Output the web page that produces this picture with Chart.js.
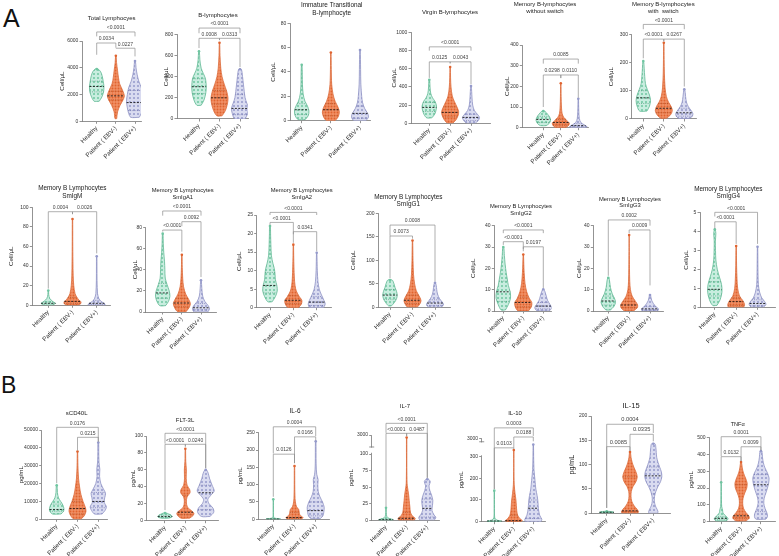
<!DOCTYPE html>
<html><head><meta charset="utf-8">
<script src="https://cdn.jsdelivr.net/npm/chart.js@4.4.1/dist/chart.umd.min.js"></script>
<style>
html,body{margin:0;padding:0;background:#fff;}
#wrap{position:relative;width:779px;height:556px;overflow:hidden;background:#fff;font-family:"Liberation Sans",Arial,sans-serif;}
#wrap canvas{position:absolute;left:0;top:0;}
.lbl{position:absolute;color:#111;line-height:1;}
</style></head><body>
<div id="wrap">
<div class="lbl" style="left:3px;top:6px;font-size:25px">A</div>
<div class="lbl" style="left:1px;top:374px;font-size:23px">B</div>
</div>
<script>
const groups = ['Healthy', 'Patient ( EBV-)', 'Patient ( EBV+)'];

// ---------- Panel data: violin profiles [value, relative width], quartiles [q1, median, q3], significance [a, b, level, dropA, dropB, p] ----------
const tlTicks = [0, 2000, 4000, 6000];
const tlViolins = [
  [[1500,.35],[1800,.7],[2200,.95],[2600,1],[3000,.9],[3400,.75],[3700,.55],[3900,.2]],
  [[200,.1],[700,.2],[1200,.5],[1600,.85],[1900,1],[2300,.8],[2800,.45],[3300,.3],[3800,.2],[4400,.08],[4900,.03]],
  [[300,.5],[600,.75],[1000,.9],[1500,1],[2000,.9],[2500,.75],[3000,.45],[3500,.25],[4000,.12],[4500,.05]]
];
const tlQuart = [[2200,2600,3000],[1600,1900,2250],[800,1400,2300]];
const tlSig = [[1,3,6675,6345,6345,'<0.0001'],[1,2,5850,4970,5500,'0.0034'],[2,3,5460,5460,4850,'0.0227']];

const blTicks = [0, 200, 400, 600, 800];
const blViolins = [
  [[130,.3],[180,.7],[250,.95],[310,1],[380,.9],[430,.6],[480,.3],[560,.12],[640,.05]],
  [[30,.3],[80,.7],[150,.95],[200,1],[260,.85],[330,.55],[400,.3],[480,.15],[600,.06],[720,.02]],
  [[0,.6],[50,.9],[100,1],[150,.8],[200,.6],[260,.5],[330,.4],[400,.3],[470,.15]]
];
const blQuart = [[240,305,380],[140,200,270],[40,100,230]];
const blSig = [[1,3,859,810,810,'<0.0001'],[1,2,762,670,745,'0.0008'],[2,3,762,745,490,'0.0313']];

const itTicks = [0, 20, 40, 60, 80];
const itViolins = [
  [[1,.5],[4,.9],[8,1],[12,.8],[16,.45],[22,.2],[30,.1],[38,.08],[46,.04]],
  [[0,.5],[3,.85],[7,1],[11,.85],[16,.5],[22,.25],[30,.1],[42,.05],[56,.02]],
  [[0,.7],[3,1],[6,.9],[10,.55],[15,.3],[20,.2],[30,.1],[42,.07],[58,.03]]
];
const itQuart = [[5,9,14],[4,9,14],[2,6,12]];
const itSig = [];

const vbTicks = [0, 200, 400, 600, 800, 1000];
const vbViolins = [
  [[60,.35],[100,.75],[150,.95],[190,1],[240,.8],[280,.45],[330,.2],[400,.1],[480,.05]],
  [[0,.3],[40,.7],[90,.95],[130,1],[180,.8],[240,.5],[300,.25],[400,.1],[500,.05],[620,.02]],
  [[0,.5],[30,.85],[65,1],[100,.75],[140,.4],[200,.2],[280,.12],[350,.08],[410,.03]]
];
const vbQuart = [[130,175,230],[70,120,180],[30,65,100]];
const vbSig = [[1,3,842,800,800,'<0.0001'],[1,2,677,500,660,'0.0125'],[2,3,677,660,430,'0.0043']];

const mnsTicks = [0, 100, 200, 300, 400];
const mnsViolins = [
  [[10,.4],[20,.8],[35,1],[50,.9],[65,.6],[80,.2]],
  [[0,.55],[10,.9],[22,1],[35,.7],[50,.35],[70,.15],[100,.08],[150,.04],[215,.02]],
  [[0,.9],[6,1],[14,.7],[25,.3],[45,.12],[80,.06],[110,.04],[140,.02]]
];
const mnsQuart = [[25,40,55],[12,25,40],[4,10,20]];
const mnsSig = [[1,3,332,310,310,'0.0085'],[1,2,255,100,240,'0.0298'],[2,3,255,240,145,'0.0110']];

const msTicks = [0, 100, 200, 300];
const msViolins = [
  [[28,.5],[45,.85],[65,1],[85,.85],[105,.55],[125,.3],[150,.2],[180,.12],[205,.05]],
  [[3,.35],[15,.8],[30,1],[45,.85],[60,.55],[80,.3],[110,.15],[160,.07],[210,.04],[270,.02]],
  [[2,.6],[10,.95],[20,1],[32,.75],[45,.45],[60,.25],[80,.15],[105,.05]]
];
const msQuart = [[55,75,100],[22,38,55],[10,22,38]];
const msSig = [[1,3,335,318,318,'<0.0001'],[1,2,283,215,275,'<0.0001'],[2,3,283,275,115,'0.0267']];

const igmTicks = [0, 20, 40, 60, 80, 100];
const igmViolins = [
  [[0,.4],[1,.8],[2,1],[4,.6],[7,.2],[11,.06],[15,.03]],
  [[0,.7],[2,1],[4,.95],[7,.6],[12,.3],[20,.15],[30,.08],[45,.05],[65,.03],[88,.02]],
  [[0,1],[2,.9],[4,.5],[7,.25],[12,.1],[25,.04],[40,.03],[50,.02]]
];
const igmQuart = [[1.5,2,3.5],[2,4,8],[1,2,5]];
const igmSig = [[1,2,95.5,17,93,'0.0004'],[2,3,95.5,93,53,'0.0026']];

const iga1Ticks = [0, 20, 40, 60, 80];
const iga1Violins = [
  [[6,.4],[10,.8],[15,1],[20,.9],[26,.6],[32,.35],[40,.3],[48,.25],[56,.15],[65,.08],[74,.04]],
  [[0,.45],[4,.85],[8,1],[12,.8],[17,.45],[24,.2],[32,.1],[42,.05],[54,.02]],
  [[0,.8],[3,1],[6,.85],[10,.45],[15,.2],[22,.1],[30,.03]]
];
const iga1Quart = [[13,18,27],[5,8.5,13],[2,4,8]];
const iga1Sig = [[1,3,95.4,91,91,'<0.0001'],[1,2,77.4,76,57,'<0.0001'],[2,3,85.3,81,33,'0.0092']];

const iga2Ticks = [0, 5, 10, 15, 20, 25];
const iga2Violins = [
  [[1.6,.3],[3,.75],[4.5,1],[6,.95],[7.5,.75],[9,.7],[10.5,.6],[12,.4],[14,.2],[17,.12],[20,.08],[22,.05]],
  [[0,.6],[1,.95],[2,1],[3,.7],[4.5,.35],[6,.2],[8,.12],[11,.07],[14,.04],[17,.02]],
  [[0,.8],[1,1],[2,.85],[3.5,.55],[5,.3],[7,.15],[10,.07],[14.8,.02]]
];
const iga2Quart = [[4,6,9.5],[1.1,2,3.2],[0.6,1.5,3]];
const iga2Sig = [[1,3,25.7,25,25,'<0.0001'],[1,2,23,22.3,17.5,'<0.0001'],[2,3,20.5,19.8,15.2,'0.0341']];

const igg1Ticks = [0, 50, 100, 150, 200];
const igg1Violins = [
  [[3,.2],[10,.6],[18,.9],[26,1],[34,.9],[42,.7],[50,.55],[58,.3]],
  [[0,.55],[8,.9],[15,1],[25,.75],[35,.45],[50,.25],[70,.12],[100,.06],[142,.02]],
  [[0,.7],[5,1],[10,.9],[18,.55],[28,.3],[38,.2],[46,.15],[52,.05]]
];
const igg1Quart = [[17,26,38],[8,15,26],[4,9,16]];
const igg1Sig = [[1,3,175,152,55,'0.0008'],[1,2,151.7,62,146,'0.0073']];

const igg2Ticks = [0, 10, 20, 30, 40];
const igg2Violins = [
  [[0.5,.3],[3,.7],[6,1],[9,.95],[12,.7],[15,.55],[18,.4],[22,.25],[26,.15],[30,.06]],
  [[0,.6],[2,.95],[4,1],[6,.7],[9,.4],[13,.2],[18,.1],[22,.06],[26.5,.02]],
  [[0,.7],[1.5,1],[3,.8],[5,.5],[7,.35],[9,.2],[10.2,.05]]
];
const igg2Quart = [[4.5,9,14],[2,4,6.5],[1,2.3,4]];
const igg2Sig = [[1,3,38,36.5,36.5,'<0.0001'],[1,2,32.5,31,28,'<0.0001'],[2,3,30.1,29,10.8,'0.0197']];

const igg3Ticks = [0, 10, 20, 30, 40];
const igg3Violins = [
  [[0.5,.3],[2,.75],[4,1],[6,.85],[8,.55],[11,.3],[13.5,.2],[15.6,.08]],
  [[0,.5],[1.5,.95],[2.8,1],[4.5,.75],[7,.35],[10,.15],[14,.07],[20,.04],[28,.02],[35.6,.01]],
  [[0,.9],[1,1],[2,.7],[3.5,.4],[5,.2],[7.5,.05]]
];
const igg3Quart = [[2.8,4.7,7],[1.5,2.8,4.5],[0.5,1,2]];
const igg3Sig = [[1,3,42.7,16.5,40,'0.0002'],[2,3,38,36.5,12,'0.0009']];

const igg4Ticks = [0, 1, 2, 3, 4, 5];
const igg4Violins = [
  [[0.1,.3],[0.4,.75],[0.8,1],[1.2,.95],[1.6,.65],[2,.35],[2.5,.15],[3,.1],[3.5,.08],[3.9,.15],[4.12,.05]],
  [[0,.9],[0.15,1],[0.35,.8],[0.6,.4],[1,.18],[1.5,.1],[2.2,.05],[3.24,.02]],
  [[0,.7],[0.15,1],[0.3,.85],[0.5,.5],[0.8,.25],[1.2,.1],[2,.05],[3.2,.02]]
];
const igg4Quart = [[0.6,0.95,1.35],[0.1,0.3,0.5],[0.08,0.2,0.4]];
const igg4Sig = [[1,3,5.02,4.8,3.35,'<0.0001'],[1,2,4.52,4.17,3.35,'<0.0001']];

const cd40Ticks = [0, 10000, 20000, 30000, 40000, 50000];
const cd40Violins = [
  [[3000,.6],[4500,.95],[6000,1],[8000,.85],[10000,.55],[12000,.25],[15000,.1],[19000,.05]],
  [[0,.4],[2000,.8],[4500,1],[7000,.9],[10000,.65],[14000,.4],[18000,.25],[23000,.12],[30000,.05],[38000,.02]],
  [[3000,.45],[5000,.8],[7000,.95],[9500,.7],[12000,.75],[14500,.85],[17000,.6],[20000,.3],[24000,.15],[28000,.18],[32000,.08],[38000,.05],[43000,.04]]
];
const cd40Quart = [[4500,5500,8500],[3000,6000,10000],[6500,10000,15000]];
const cd40Sig = [[1,3,51500,20200,43500,'0.0176'],[2,3,45900,38500,43500,'0.0215']];

const flt3Ticks = [0, 20, 40, 60, 80, 100];
const flt3Violins = [
  [[3,.5],[4,.9],[5,1],[6.5,.85],[8,.5],[9,.2]],
  [[3,.5],[6,.9],[9,1],[12,.7],[16,.25],[22,.12],[28,.2],[33,.55],[37,.5],[42,.2],[50,.1],[60,.12],[70,.05],[85,.02]],
  [[5,.5],[10,.95],[15,.85],[20,.4],[25,.25],[30,.6],[35,1],[42,.75],[50,.45],[56,.3],[60,.1]]
];
const flt3Quart = [[4,5,6.5],[7,10,30],[13,33,42]];
const flt3Sig = [[1,3,103.2,91,62,'<0.0001'],[1,2,90.2,12.5,87.5,'<0.0001'],[2,3,90.2,87.5,62,'0.0240']];

const il6Ticks = [0, 50, 100, 150, 200, 250];
const il6Violins = [
  [[0,.8],[1,1],[3,.3],[6,.05],[20,.02],[58,.02]],
  [[0,.8],[5,1],[12,.65],[20,.55],[28,.5],[36,.25],[50,.1],[70,.05],[100,.03],[154,.02]],
  [[2,.55],[10,.85],[20,.95],[35,1],[50,.8],[65,.5],[80,.3],[100,.25],[115,.28],[130,.12],[160,.05],[225,.03]]
];
const il6Quart = [[0,0.5,1],[2,5,20],[10,25,50]];
const il6Sig = [[1,3,267,190,240,'0.0004'],[2,3,238,162,228,'0.0166'],[1,2,188,65,162,'0.0126']];

const il7Ticks = [0, 25, 50, 75, 100, 128.7];
const il7TickLabels = ['0', '25', '50', '75', '100', '3000'];
const il7Violins = [
  [[0,.9],[1,1],[3,.4],[6,.1],[12,.04],[19,.02]],
  [[0,.9],[3,1],[7,.65],[12,.45],[20,.38],[30,.3],[40,.22],[50,.1],[56,.05],[80,.02],[125,.02]],
  [[0,.8],[4,1],[9,.75],[15,.55],[22,.6],[30,.65],[38,.5],[45,.3],[52,.2],[58,.35],[62,.15]]
];
const il7Quart = [[0.3,1,2],[1,3,12],[5,18,32]];
const il7Sig = [[1,3,146.3,132,64,'<0.0001'],[1,2,131.2,20.5,127,'<0.0001'],[2,3,131.2,127,64,'0.0487']];

const il10Ticks = [0, 100, 200, 300, 384];
const il10TickLabels = ['0', '100', '200', '300', '3000'];
const il10Violins = [
  [[0,.9],[3,1],[8,.3],[20,.05],[60,.02],[143,.02]],
  [[0,.8],[5,1],[15,.7],[30,.45],[50,.35],[75,.3],[100,.25],[130,.15],[170,.05],[250,.02],[330,.02]],
  [[0,.9],[10,1],[30,.75],[60,.6],[90,.55],[120,.45],[150,.3],[190,.2],[240,.08],[300,.04],[355,.02]]
];
const il10Quart = [[1,3,6],[2,5,30],[15,62,100]];
const il10Sig = [[1,3,432,150,395,'0.0003'],[1,2,340,150,335,'0.0103'],[2,3,390,340,370,'0.0188']];

const il15Ticks = [0, 50, 100, 150, 200];
const il15Violins = [
  [[1,.6],[2,1],[3,.8],[4,.3]],
  [[0,.9],[3,1],[8,.85],[15,.5],[25,.2],[35,.12],[45,.15],[55,.35],[65,.7],[75,.85],[85,.7],[95,.45],[105,.25],[115,.12],[126,.05]],
  [[0,.5],[3,.55],[8,.45],[15,.25],[25,.12],[35,.15],[45,.3],[55,.55],[65,.85],[75,1],[85,.95],[95,.75],[105,.55],[115,.4],[125,.35],[135,.3],[143,.2]]
];
const il15Quart = [[1.5,2,3],[3,5,75],[40,77,95]];
const il15Sig = [[1,3,183,11,165,'0.0004'],[2,3,162.4,128,148,'0.0335'],[1,2,137,11,128,'0.0085']];

const tnfTicks = [0, 100, 200, 300, 400, 500];
const tnfViolins = [
  [[5,.7],[15,1],[25,.9],[40,.5],[55,.25],[70,.2],[90,.08],[130,.04],[180,.03],[235,.02]],
  [[5,.6],[20,1],[35,.95],[55,.6],[80,.3],[110,.2],[140,.25],[170,.45],[200,.7],[230,.75],[260,.55],[290,.3],[320,.15],[355,.05]],
  [[15,.6],[30,.8],[50,.75],[80,.5],[110,.35],[140,.4],[170,.6],[200,.8],[230,.95],[260,1],[290,.8],[320,.5],[350,.3],[380,.2],[420,.1]]
];
const tnfQuart = [[12,20,30],[20,35,220],[60,220,280]];
const tnfSig = [[1,3,506,390,425,'0.0001'],[2,3,446,360,425,'0.0099'],[1,2,387,240,360,'0.0132']];

// ---------- Layout (pixel geometry of each panel) ----------
const CELL = 'Cell/\u03bcL', PG = 'pg/mL';
const panels = [
  {v:tlViolins,q:tlQuart,s:tlSig,t:tlTicks,title:['Total Lymphocyes'],tx:111.7,ty:[18],ts:6,L:82,top:41,bot:121.3,R:141,c1:96.7,c3:135,ylab:CELL,yx:62},
  {v:blViolins,q:blQuart,s:blSig,t:blTicks,title:['B-lymphocytes'],tx:218,ty:[15],ts:6,L:177,top:34.3,bot:119,R:248,c1:199,c3:240,ylab:CELL,yx:166.5},
  {v:itViolins,q:itQuart,s:itSig,t:itTicks,title:['Immature Transitional','B-lymphocyte'],tx:331.7,ty:[5.5,13],ts:6.4,L:290,top:23.3,bot:120.7,R:370,c1:301.7,c3:360,ylab:CELL,yx:273.3},
  {v:vbViolins,q:vbQuart,s:vbSig,t:vbTicks,title:['Virgin B-lymphocytes'],tx:450,ty:[12.3],ts:6,L:411,top:32.5,bot:123.3,R:490,c1:429.3,c3:471,ylab:CELL,yx:394.5},
  {v:mnsViolins,q:mnsQuart,s:mnsSig,t:mnsTicks,title:['Memory B-lymphocytes','without switch'],tx:545,ty:[4.5,11],ts:6,L:522.3,top:45,bot:127.7,R:588,c1:543.3,c3:578.3,ylab:CELL,yx:507},
  {v:msViolins,q:msQuart,s:msSig,t:msTicks,title:['Memory B-lymphocytes','with  switch'],tx:663.3,ty:[4.5,11],ts:6,L:631.7,top:34.3,bot:119,R:696.7,c1:643.3,c3:684.3,ylab:CELL,yx:611},
  {v:igmViolins,q:igmQuart,s:igmSig,t:igmTicks,title:['Memory B Lymphocytes','SmIgM'],tx:72.3,ty:[188.3,196.7],ts:6.4,L:32.3,top:207.3,bot:305.3,R:110,c1:48.3,c3:96.7,ylab:CELL,yx:11.7},
  {v:iga1Violins,q:iga1Quart,s:iga1Sig,t:iga1Ticks,title:['Memory B Lymphocytes','SmIgA1'],tx:182.7,ty:[190.7,197.2],ts:5.8,L:145.7,top:227.3,bot:312,R:216.7,c1:162.7,c3:201,ylab:CELL,yx:135},
  {v:iga2Violins,q:iga2Quart,s:iga2Sig,t:iga2Ticks,title:['Memory B Lymphocytes','SmIgA2'],tx:301.7,ty:[190,197.3],ts:5.8,L:256.7,top:215,bot:307.7,R:331.7,c1:270,c3:316.7,ylab:CELL,yx:239.3},
  {v:igg1Violins,q:igg1Quart,s:igg1Sig,t:igg1Ticks,title:['Memory B Lymphocytes','SmIgG1'],tx:408.3,ty:[197.3,204.5],ts:6.4,L:378.3,top:213.3,bot:307.3,R:450,c1:390,c3:435,ylab:CELL,yx:353.3},
  {v:igg2Violins,q:igg2Quart,s:igg2Sig,t:igg2Ticks,title:['Memory B Lymphocytes','SmIgG2'],tx:521,ty:[206,213],ts:5.8,L:494.3,top:225.7,bot:311,R:551.7,c1:503.3,c3:543.3,ylab:CELL,yx:473.3},
  {v:igg3Violins,q:igg3Quart,s:igg3Sig,t:igg3Ticks,title:['Memory B Lymphocytes','SmIgG3'],tx:630,ty:[199.3,205.8],ts:5.8,L:593.3,top:225.7,bot:311,R:663.3,c1:608.3,c3:650,ylab:CELL,yx:579},
  {v:igg4Violins,q:igg4Quart,s:igg4Sig,t:igg4Ticks,title:['Memory B Lymphocytes','SmIgG4'],tx:728.3,ty:[189.3,196.7],ts:6.4,L:700,top:212.7,bot:307.3,R:776,c1:715,c3:758.3,ylab:CELL,yx:686.7},
  {v:cd40Violins,q:cd40Quart,s:cd40Sig,t:cd40Ticks,title:['sCD40L'],tx:76.7,ty:[413.3],ts:6,L:41.7,top:430,bot:519.3,R:107.3,c1:56.7,c3:98.3,ylab:PG,yx:21.7},
  {v:flt3Violins,q:flt3Quart,s:flt3Sig,t:flt3Ticks,title:['FLT-3L'],tx:185,ty:[420],ts:6,L:146.7,top:436,bot:520.7,R:218.3,c1:165,c3:205.7,ylab:PG,yx:133.3},
  {v:il6Violins,q:il6Quart,s:il6Sig,t:il6Ticks,title:['IL-6'],tx:295,ty:[411.7],ts:6.5,L:258.5,top:432.7,bot:519.3,R:329,c1:273.3,c3:315.7,ylab:PG,yx:240},
  {v:il7Violins,q:il7Quart,s:il7Sig,t:il7Ticks,tl:il7TickLabels,brk:[101,110.6],title:['IL-7'],tx:405,ty:[406],ts:6,L:371.7,top:435,bot:520.3,R:440,c1:386,c3:427.3,ylab:PG,yx:351},
  {v:il10Violins,q:il10Quart,s:il10Sig,t:il10Ticks,tl:il10TickLabels,brk:[303,368],title:['IL-10'],tx:515,ty:[413.3],ts:6,L:481.7,top:438.3,bot:521.7,R:545,c1:494.3,c3:533.3,ylab:PG,yx:461},
  {v:il15Violins,q:il15Quart,s:il15Sig,t:il15Ticks,title:['IL-15'],tx:631,ty:[406],ts:7.5,sigSize:5.7,ys:7,L:591,top:416,bot:513.3,R:670,c1:606.7,c3:653.3,ylab:PG,yx:571.7},
  {v:tnfViolins,q:tnfQuart,s:tnfSig,t:tnfTicks,title:['TNF\u03b1'],tx:737.7,ty:[424.3],ts:5.6,L:709.3,top:437.7,bot:521.7,R:778,c1:721.7,c3:763.3,ylab:PG,yx:691.7}
];

// ---------- Rendering ----------
const FONT = '"Liberation Sans", Arial, Helvetica, sans-serif';
const CW = 779, CH = 556, AX = '#777';
const GROUP_STYLE = [
  {base:'#c8eddf', dot:'#6fc6a1', line:'#5fb893', q:'#3d8c6c', size:4, r:1, f:0.85},
  {base:'#f19166', dot:'#e0632f', line:'#dc6c3c', q:'#9c4620', size:3, r:0.95, f:1},
  {base:'#d9dbf0', dot:'#959acb', line:'#8d91c3', q:'#5e62a0', size:4, r:1, f:1}
];
const wrap = document.getElementById('wrap');

function makePattern(ctx, st) {
  const c = document.createElement('canvas'); c.width = st.size; c.height = st.size;
  const g = c.getContext('2d'); g.fillStyle = st.base; g.fillRect(0, 0, st.size, st.size);
  g.fillStyle = st.dot; g.beginPath(); g.arc(st.size / 2, st.size / 2, st.r, 0, 2 * Math.PI); g.fill();
  return ctx.createPattern(c, 'repeat');
}
function widthAt(prof, v) {
  if (v <= prof[0][0]) return prof[0][1];
  for (let i = 1; i < prof.length; i++) {
    if (v <= prof[i][0]) { const [v0, w0] = prof[i - 1], [v1, w1] = prof[i]; return w0 + (w1 - w0) * (v - v0) / (v1 - v0); }
  }
  return prof[prof.length - 1][1];
}
function violinPoints(prof, c, w) {
  const right = prof.map(([v, r]) => ({x: c + r * w, y: v}));
  const left = prof.slice().reverse().map(([v, r]) => ({x: c - r * w, y: v}));
  return right.concat(left, [right[0]]);
}
function drawDeco(chart, p) {
  const ctx = chart.ctx, xs = chart.scales.x, ys = chart.scales.y, ca = chart.chartArea;
  ctx.save();
  if (p.brk) {
    const x = ca.left, yLo = ys.getPixelForValue(p.brk[0]), yHi = ys.getPixelForValue(p.brk[1]);
    ctx.fillStyle = '#fff'; ctx.fillRect(x - 2, yHi + 0.6, 4, yLo - yHi - 1.2);
    ctx.strokeStyle = AX; ctx.lineWidth = 0.8;
    ctx.beginPath(); ctx.moveTo(x - 2.5, yHi); ctx.lineTo(x + 2.5, yHi); ctx.stroke();
  }
  ctx.strokeStyle = '#8c8c8c'; ctx.lineWidth = 0.7;
  ctx.font = (p.sigSize || 5) + 'px ' + FONT; ctx.fillStyle = '#444';
  ctx.textAlign = 'center'; ctx.textBaseline = 'bottom';
  for (const [a, b, yl, ya, yb, t] of p.s) {
    const xa = xs.getPixelForValue(a), xb = xs.getPixelForValue(b);
    const py = ys.getPixelForValue(yl), pa = ys.getPixelForValue(ya), pb = ys.getPixelForValue(yb);
    ctx.beginPath(); ctx.moveTo(xa, pa); ctx.lineTo(xa, py); ctx.lineTo(xb, py); ctx.lineTo(xb, pb); ctx.stroke();
    ctx.fillText(t, (xa + xb) / 2, py - 1.6);
  }
  ctx.fillStyle = '#1a1a1a'; ctx.font = p.ts + 'px ' + FONT; ctx.textBaseline = 'middle';
  p.title.forEach((line, i) => ctx.fillText(line, p.tx, p.ty[i]));
  ctx.restore();
}
function makePanel(p, idx) {
  const cv = document.createElement('canvas');
  cv.width = CW; cv.height = CH; cv.style.width = CW + 'px'; cv.style.height = CH + 'px';
  wrap.appendChild(cv);
  const ctx = cv.getContext('2d');
  const sp = (p.c3 - p.c1) / 2;
  const xmin = 1 - (p.c1 - p.L) / sp, xmax = 3 + (p.R - p.c3) / sp;
  const hw = 8.5 / sp;
  const ymax = Math.max(...p.t);
  const ylabSize = p.ys || 6.2;
  const padLeft = p.yx - ylabSize * 1.2 / 2;
  const yW = p.L - padLeft;
  const xH = Math.min(40, CH - p.bot);
  const datasets = [];
  p.v.forEach((prof, gi) => {
    const st = GROUP_STYLE[gi], c = gi + 1, w = hw * st.f;
    p.q[gi].forEach((val, k) => {
      const ww = widthAt(prof, val) * w;
      datasets.push({data: [{x: c - ww, y: val}, {x: c + ww, y: val}], showLine: true, fill: false,
        borderColor: k === 1 ? '#1a1a1a' : st.q, borderWidth: k === 1 ? 0.9 : 0.6,
        borderDash: k === 1 ? [2, 1.4] : [1, 1.2], pointRadius: 0, order: 0});
    });
    const top = prof[prof.length - 1][0];
    datasets.push({data: [{x: c, y: top}], showLine: false, pointRadius: 1.3, pointBorderWidth: 0,
      pointBackgroundColor: st.dot, order: 0});
    datasets.push({data: violinPoints(prof, c, w), showLine: true, fill: 'shape',
      backgroundColor: makePattern(ctx, st), borderColor: st.line, borderWidth: 0.8,
      pointRadius: 0, tension: 0.3, order: 1});
  });
  const gridOpts = {display: true, drawOnChartArea: false, drawTicks: true, tickLength: 2.5, color: AX, lineWidth: 0.8};
  new Chart(cv, {
    type: 'scatter',
    data: {datasets},
    options: {
      responsive: false, animation: false, events: [],
      layout: {padding: {left: padLeft, top: p.top, right: CW - p.R, bottom: CH - p.bot - xH}},
      plugins: {legend: {display: false}, tooltip: {enabled: false}},
      scales: {
        x: {type: 'linear', min: xmin, max: xmax,
          afterBuildTicks: sc => { sc.ticks = [{value: 1}, {value: 2}, {value: 3}]; },
          afterFit: sc => { sc.height = xH; },
          grid: gridOpts, border: {display: true, color: AX, width: 0.8},
          ticks: {autoSkip: false, minRotation: 45, maxRotation: 45, padding: 1, color: '#333',
            font: {family: FONT, size: 6.2}, callback: v => groups[Math.round(v) - 1]}},
        y: {type: 'linear', min: 0, max: ymax,
          afterBuildTicks: sc => { sc.ticks = p.t.map(v => ({value: v})); },
          afterFit: sc => { sc.width = yW; },
          grid: gridOpts, border: {display: true, color: AX, width: 0.8},
          ticks: {autoSkip: false, padding: 1.2, color: '#333', font: {family: FONT, size: 5},
            callback: (v, i) => p.tl ? p.tl[i] : String(v)},
          title: {display: true, text: p.ylab, padding: 0, color: '#222', font: {family: FONT, size: ylabSize}}}
      }
    },
    plugins: [{id: 'deco' + idx, afterDraw: chart => drawDeco(chart, p)}]
  });
}
panels.forEach(makePanel);
</script>
</body></html>
